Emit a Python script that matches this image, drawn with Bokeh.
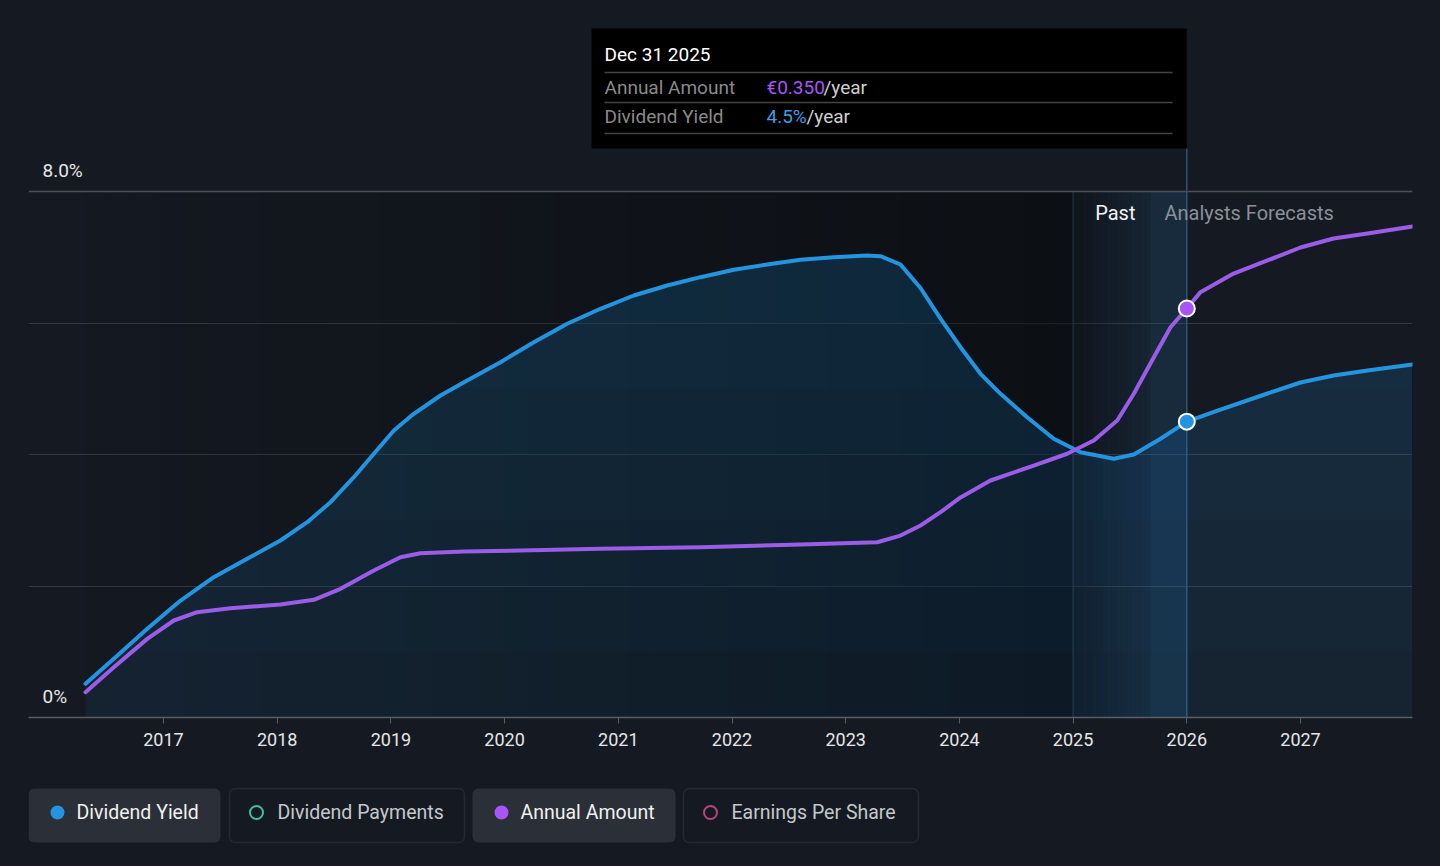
from bokeh.plotting import figure
from bokeh.layouts import column
from bokeh.models import Range1d, FixedTicker, Span, BoxAnnotation
from bokeh.core.properties import value
from bokeh.embed import file_html
from bokeh.resources import INLINE

# ---------------- data ----------------
yield_years = [2016.314, 2016.563, 2016.857, 2017.150, 2017.442, 2017.736, 2018.029, 2018.264,
               2018.469, 2018.674, 2018.850, 2019.026, 2019.201, 2019.436, 2019.671, 2019.964,
               2020.257, 2020.551, 2020.843, 2021.136, 2021.430, 2021.723, 2022.016, 2022.310,
               2022.602, 2022.895, 2023.189, 2023.306, 2023.482, 2023.658, 2023.834, 2024.010,
               2024.186, 2024.362, 2024.596, 2024.830, 2025.065, 2025.358, 2025.534, 2025.769,
               2026.000, 2026.270, 2026.710, 2027.000, 2027.290, 2027.589, 2027.985]
yield_pct = [0.513, 0.893, 1.349, 1.779, 2.134, 2.414, 2.692, 2.970,
             3.275, 3.655, 4.011, 4.365, 4.619, 4.897, 5.125, 5.404,
             5.708, 5.988, 6.216, 6.418, 6.570, 6.697, 6.809, 6.890,
             6.961, 7.001, 7.027, 7.016, 6.890, 6.532, 6.068, 5.632,
             5.227, 4.923, 4.567, 4.239, 4.035, 3.935, 4.000, 4.239,
             4.500, 4.669, 4.928, 5.095, 5.202, 5.278, 5.369]

amount_years = [2016.314, 2016.563, 2016.857, 2017.091, 2017.296, 2017.589, 2018.029, 2018.322,
                2018.557, 2018.850, 2019.084, 2019.260, 2019.641, 2020.140, 2020.843, 2021.723,
                2022.602, 2023.277, 2023.482, 2023.658, 2023.834, 2024.010, 2024.273, 2024.654,
                2024.948, 2025.182, 2025.388, 2025.534, 2025.710, 2025.857, 2026.000, 2026.120,
                2026.411, 2026.710, 2027.000, 2027.290, 2027.589, 2027.985]
amount_eur = [0.0217, 0.0430, 0.0673, 0.0830, 0.0901, 0.0935, 0.0967, 0.1007,
              0.1101, 0.1258, 0.1372, 0.1406, 0.1421, 0.1429, 0.1444, 0.1457,
              0.1480, 0.1500, 0.1557, 0.1643, 0.1757, 0.1883, 0.2028, 0.2156,
              0.2257, 0.2370, 0.2542, 0.2770, 0.3083, 0.3340, 0.3500, 0.3640,
              0.3799, 0.3911, 0.4022, 0.4099, 0.4142, 0.4202]

x_tick_years = list(range(2017, 2028))
x_tick_labels = [str(y) for y in x_tick_years]
y_grid_ticks = [0, 2, 4, 6]
y_label_ticks = [0, 8]
y_label_texts = ["0%", "8.0%"]

marker_date = 2026.0
marker_label = "Dec 31 2025"
marker_yield = 4.5
marker_amount = 0.350
past_end = 2025.0
forecast_start = 2025.68

legend_labels = ["Dividend Yield", "Dividend Payments", "Annual Amount", "Earnings Per Share"]
legend_colors = ["#2394df", "#3fbfa6", "#a855f7", "#b8457f"]
legend_active = [True, False, True, False]

# ---------------- style / layout ----------------
BG = "#151a22"
BLUE = "#2394df"
PURPLE = "#9b5ce8"
FONT = "Roboto"

X0, X1 = 2015.8127, 2027.985
PXX = 113.7          # px per year
PXY = 65.75          # px per 1 %
Y1 = 717 / PXY
A1 = marker_amount * 717 / 409.0


def px_x(px):
    return X0 + (px - 28) / PXX


def px_y(py):
    return (717 - py) / PXY


p = figure(width=1440, height=778, x_range=Range1d(X0, X1), y_range=Range1d(0, Y1),
           output_backend="svg", toolbar_location=None, y_axis_location=None,
           background_fill_color=BG, border_fill_color=BG, outline_line_color=None,
           min_border_left=28, min_border_right=28, min_border_top=0, min_border_bottom=61)
p.extra_y_ranges = {"amt": Range1d(0, A1)}

# grid
p.xgrid.visible = False
p.ygrid.ticker = FixedTicker(ticks=y_grid_ticks)
p.ygrid.grid_line_color = "#343941"
p.ygrid.grid_line_width = 1
p.add_layout(Span(location=8, dimension="width", line_color="#4b5058", line_width=1.5))

# x axis
ax = p.xaxis[0]
ax.ticker = FixedTicker(ticks=x_tick_years)
ax.major_label_overrides = {y: t for y, t in zip(x_tick_years, x_tick_labels)}
ax.minor_tick_line_color = None
ax.major_tick_in = 0
ax.major_tick_out = 6
ax.major_tick_line_color = "#5a5e65"
ax.axis_line_color = "#5a5e65"
ax.axis_line_width = 1.5
ax.major_label_text_color = "#e6e6e6"
ax.major_label_text_font = FONT
ax.major_label_text_font_size = "18px"
ax.major_label_standoff = 9

# dark "past" gradient region
n = 40
start = yield_years[0]
w = (past_end - start) / n
p.quad(left=[start + i * w for i in range(n)], right=[start + (i + 1) * w for i in range(n)],
       bottom=0, top=8, fill_color="black", line_color=None,
       fill_alpha=[0.03 + 0.37 * i / (n - 1) for i in range(n)])

# past band (2025 -> forecast start)
m = 16
w2 = (forecast_start - past_end) / m
lefts = [past_end + i * w2 for i in range(m)]
rights = [past_end + (i + 1) * w2 for i in range(m)]
p.quad(left=lefts, right=rights, bottom=0, top=8, fill_color="black", line_color=None,
       fill_alpha=[0.25 * (1 - i / (m - 1)) for i in range(m)])
p.quad(left=lefts, right=rights, bottom=0, top=8, fill_color="#236496", line_color=None,
       fill_alpha=[0.03 + 0.12 * i / (m - 1) for i in range(m)])
p.quad(left=[forecast_start], right=[marker_date], bottom=0, top=8,
       fill_color="#236496", fill_alpha=0.23, line_color=None)

# vertical lines
p.segment(x0=[past_end], x1=[past_end], y0=[0], y1=[8], line_color="#26394c", line_width=1)
p.segment(x0=[marker_date], x1=[marker_date], y0=[0], y1=[px_y(148)],
          line_color="#2d5576", line_width=1.5)

# area under yield (layered to give a vertical gradient)
p.varea(x=yield_years, y1=[0] * len(yield_years), y2=yield_pct,
        fill_color=BLUE, fill_alpha=0.09)
for lvl in range(1, 8):
    p.varea(x=yield_years, y1=[min(v, lvl) for v in yield_pct], y2=yield_pct,
            fill_color=BLUE, fill_alpha=0.025)

# lines
p.line(yield_years, yield_pct, line_color=BLUE, line_width=4, line_join="round", line_cap="round")
p.line(amount_years, amount_eur, line_color=PURPLE, line_width=4, line_join="round",
       line_cap="round", y_range_name="amt")

# markers
p.scatter([marker_date], [marker_amount], size=16, marker="circle", fill_color="#a855f7",
          line_color="white", line_width=2, y_range_name="amt")
p.scatter([marker_date], [marker_yield], size=16, marker="circle", fill_color=BLUE,
          line_color="white", line_width=2)

# y labels
p.text(x=[X0] * 2, y=[v + 21 / PXY for v in y_label_ticks], text=y_label_texts,
       x_offset=14, text_color="#e6e6e6", text_font=value(FONT), text_font_size="19px",
       text_baseline="middle", text_align="left")

# Past / Analysts Forecasts labels
p.text(x=[forecast_start], y=[px_y(212)], text=["Past"], x_offset=-15,
       text_color="#f4f4f4", text_font=value(FONT), text_font_size="20px",
       text_baseline="middle", text_align="right")
p.text(x=[forecast_start], y=[px_y(212)], text=["Analysts Forecasts"], x_offset=14,
       text_color="#8b9099", text_font=value(FONT), text_font_size="20px",
       text_baseline="middle", text_align="left")

# tooltip box
p.quad(left=[px_x(591)], right=[marker_date], top=[px_y(28)], bottom=[px_y(148)],
       fill_color="black", line_color=None)
p.segment(x0=[px_x(604)] * 3, x1=[px_x(1172)] * 3, y0=[px_y(72), px_y(102), px_y(133)],
          y1=[px_y(72), px_y(102), px_y(133)], line_color="#444444", line_width=1.5)
p.text(x=[px_x(604)], y=[px_y(54)], text=[marker_label], text_color="white",
       text_font=value(FONT), text_font_size="19px", text_baseline="middle")
p.text(x=[px_x(604)] * 2, y=[px_y(87), px_y(116)], text=["Annual Amount", "Dividend Yield"],
       text_color="#8a8a8a", text_font=value(FONT), text_font_size="19px",
       text_baseline="middle")
p.text(x=[px_x(766)], y=[px_y(87)], text=[f"€{marker_amount:.3f}"], text_color="#a855f7",
       text_font=value(FONT), text_font_size="19px", text_baseline="middle")
p.text(x=[px_x(823)], y=[px_y(87)], text=["/year"], text_color="#cfcfcf",
       text_font=value(FONT), text_font_size="19px", text_baseline="middle")
p.text(x=[px_x(766)], y=[px_y(116)], text=[f"{marker_yield:.1f}%"], text_color="#3d9ee5",
       text_font=value(FONT), text_font_size="19px", text_baseline="middle")
p.text(x=[px_x(806)], y=[px_y(116)], text=["/year"], text_color="#cfcfcf",
       text_font=value(FONT), text_font_size="19px", text_baseline="middle")

# ---------------- legend ----------------
# frame is aligned with the chart frame (page x 28..1412), so data x == page x
lg = figure(width=1440, height=88, x_range=Range1d(28, 1412), y_range=Range1d(88, 0),
            output_backend="svg", toolbar_location=None, x_axis_location=None,
            y_axis_location=None, background_fill_color=BG, border_fill_color=BG,
            outline_line_color=None, min_border_left=28, min_border_right=28,
            min_border_top=0, min_border_bottom=0)
lg.xgrid.visible = False
lg.ygrid.visible = False

box_spans = [(28, 220), (229, 464), (472, 675), (683, 918)]
for (l, r), active, label, color in zip(box_spans, legend_active, legend_labels, legend_colors):
    lg.add_layout(BoxAnnotation(left=l, right=r, top=10, bottom=64, border_radius=6,
                                fill_color="#2b2f37" if active else BG, fill_alpha=1.0,
                                line_color=None if active else "#4a4e55",
                                line_width=1.5, level="underlay"))
    if active:
        lg.scatter([l + 29], [34], size=14, marker="circle", fill_color=color, line_color=None)
    else:
        lg.scatter([l + 27], [34], size=13, marker="circle", fill_color=None,
                   line_color=color, line_width=2)
    lg.text(x=[l + 48], y=[34], text=[label],
            text_color="#f0f0f0" if active else "#c4c8cc",
            text_font=value(FONT), text_font_size="19.5px", text_baseline="middle")

layout = column(p, lg)
html = file_html(layout, INLINE)
html = html.replace("</head>",
                    "<style>html,body{margin:0;padding:0;background:%s;overflow:hidden;}</style></head>" % BG, 1)
open("out.html", "w").write(html)
